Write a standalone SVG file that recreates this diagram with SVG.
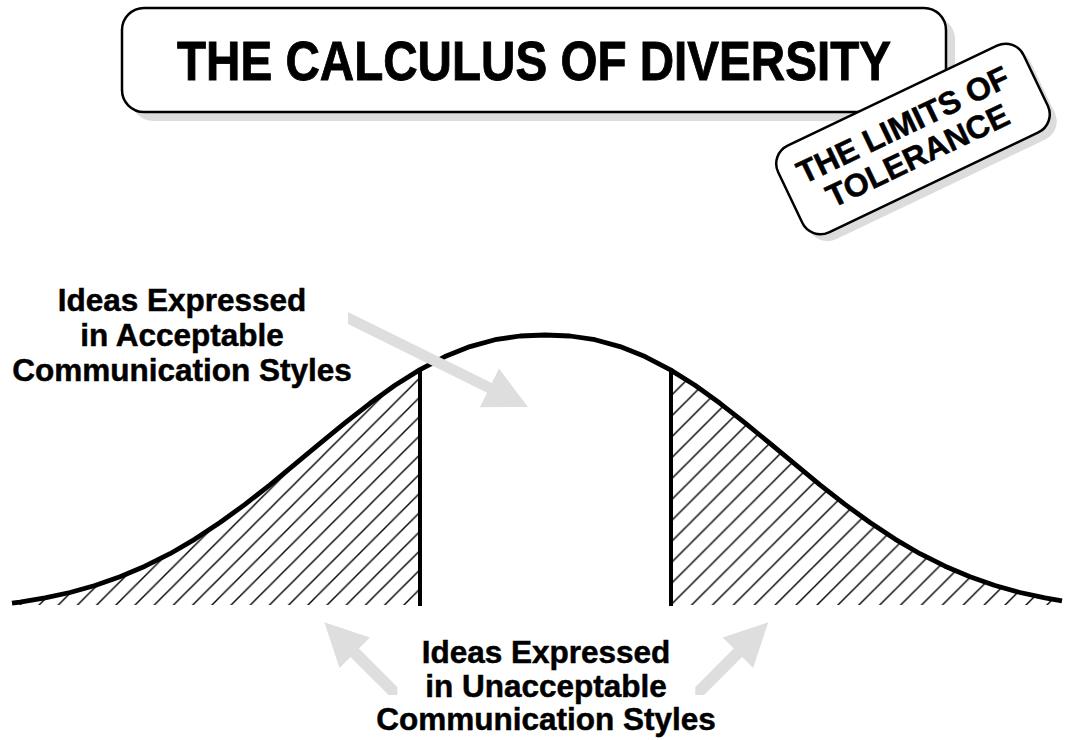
<svg xmlns="http://www.w3.org/2000/svg" width="1068" height="740" viewBox="0 0 1068 740">
<style>
.lbl{font-family:"Liberation Sans",Arial,sans-serif;font-weight:bold;fill:#000;text-anchor:middle;stroke:#000;stroke-width:0.5}
.box{fill:#fff;stroke:#000;stroke-width:2.5}
.shadow{fill:#dcdcdc}
.curve{fill:none;stroke:#000;stroke-width:4.8;stroke-linejoin:round;stroke-linecap:butt}
.vline{stroke:#000;stroke-width:4}
.arrow{fill:#dedede;stroke:none}
</style>
<defs>
<pattern id="hatchL" patternUnits="userSpaceOnUse" x="10.5" y="0" width="19.2" height="19.2">
<path d="M-2,2 L2,-2 M0,19.2 L19.2,0 M17.2,21.2 L21.2,17.2" stroke="#000" stroke-width="1.4"/>
</pattern>
<pattern id="hatchR" patternUnits="userSpaceOnUse" x="0.9" y="0" width="20.9" height="20.9">
<path d="M-2,2 L2,-2 M0,20.9 L20.9,0 M18.9,22.9 L22.9,18.9" stroke="#000" stroke-width="1.4"/>
</pattern>
</defs>

<g id="title">
<rect class="shadow" x="131" y="17" width="824" height="104" rx="22"/>
<rect class="box" x="122" y="8" width="824" height="104" rx="22"/>
<text class="lbl" x="534" y="80" font-size="55" textLength="714" lengthAdjust="spacingAndGlyphs" style="font-family:'Liberation Sans Narrow','Liberation Sans',Arial,sans-serif;stroke-width:0.9">THE CALCULUS OF DIVERSITY</text>
</g>

<g id="limits-badge">
<rect class="shadow" transform="translate(920,146) rotate(-25.5)" x="-136" y="-48" width="272" height="96" rx="20"/>
<g transform="translate(913,139) rotate(-25.5)">
<rect class="box" x="-136" y="-48" width="272" height="96" rx="20"/>
<text class="lbl" x="-3" y="-6" font-size="32">THE LIMITS OF</text>
<text class="lbl" x="-3" y="28" font-size="32">TOLERANCE</text>
</g>
</g>

<g id="bell-curve">
<path id="left-tail" fill="url(#hatchL)" d="M12,605 L12,603.2 L20,602.1 L45,597.9 L70,592.5 L95,585.5 L120,576.8 L145,566.2 L170,553.7 L195,539.1 L220,522.5 L245,504.4 L270,484.8 L295,464.2 L320,443.4 L345,422.9 L370,403.3 L395,385.3 L420,369.6 L420,605 Z"/>
<path id="right-tail" fill="url(#hatchR)" d="M671,605 L671,370.2 L695,385.3 L720,403.3 L745,422.9 L770,443.4 L795,464.2 L820,484.8 L845,504.4 L870,522.5 L895,539.1 L920,553.7 L945,566.2 L970,576.8 L995,585.5 L1020,592.5 L1045,597.9 L1062,600.9 L1062,605 Z"/>
<path class="curve" d="M12,603.2 L20,602.1 L45,597.9 L70,592.5 L95,585.5 L120,576.8 L145,566.2 L170,553.7 L195,539.1 L220,522.5 L245,504.4 L270,484.8 L295,464.2 L320,443.4 L345,422.9 L370,403.3 L395,385.3 L420,369.6 L445,356.6 L470,346.6 L495,339.7 L520,336.0 L545,335.0 L570,336.0 L595,339.7 L620,346.6 L645,356.6 L670,369.6 L695,385.3 L720,403.3 L745,422.9 L770,443.4 L795,464.2 L820,484.8 L845,504.4 L870,522.5 L895,539.1 L920,553.7 L945,566.2 L970,576.8 L995,585.5 L1020,592.5 L1045,597.9 L1062,600.9"/>
<line class="vline" x1="420" y1="368" x2="420" y2="606"/>
<line class="vline" x1="671" y1="368.5" x2="671" y2="606"/>
</g>

<g id="label-acceptable">
<text class="lbl" x="182" y="311" font-size="31.5">Ideas Expressed</text>
<text class="lbl" x="182" y="346" font-size="31.5">in Acceptable</text>
<text class="lbl" x="182" y="381" font-size="31.5">Communication Styles</text>
</g>

<g id="label-unacceptable">
<text class="lbl" x="546" y="663" font-size="31.5">Ideas Expressed</text>
<text class="lbl" x="546" y="697" font-size="31.5">in Unacceptable</text>
<text class="lbl" x="546" y="730" font-size="31.5">Communication Styles</text>
</g>

<g id="connectors">
<polygon class="arrow" points="348,311.9 491.9,383.0 499.0,368.6 528,407 480.0,407.2 487.1,392.8 348,324.0"/>
<polygon class="arrow" points="324.3,622.3 369.9,637.5 358.9,648.5 397.3,686.9 397.3,695 388.6,695 350.5,656.9 339.5,667.9"/>
<polygon class="arrow" points="768.3,622.3 722.7,637.5 733.7,648.5 695.3,686.9 695.3,695 704,695 742.1,656.9 753.1,667.9"/>
</g>
</svg>
